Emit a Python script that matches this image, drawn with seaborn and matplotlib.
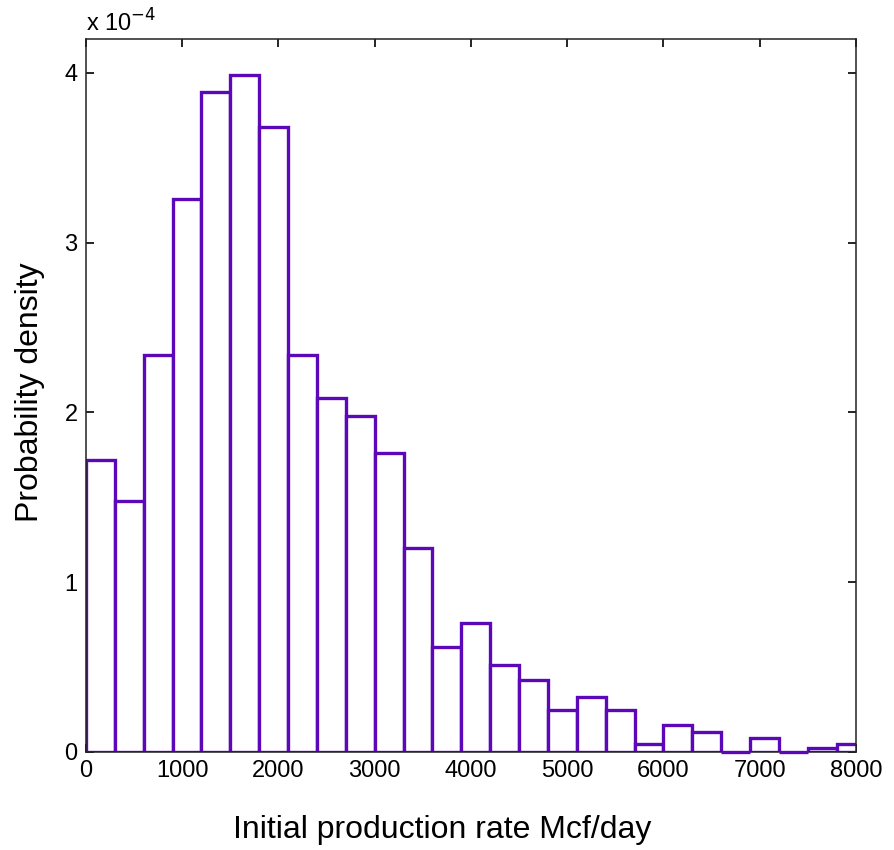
import numpy as np
import pandas as pd
import matplotlib
matplotlib.use("Agg")
import matplotlib.pyplot as plt
import seaborn as sns

# Histogram of initial production rates (bins of 300 Mcf/day)
bin_edges = list(range(0, 8101, 300))
# Probability density per bin, in units of 1e-4
density_e4 = [1.72, 1.48, 2.34, 3.255, 3.89, 3.99, 3.68, 2.34, 2.086, 1.98,
              1.76, 1.20, 0.62, 0.76, 0.51, 0.425, 0.246, 0.324, 0.246, 0.05,
              0.16, 0.12, 0.0, 0.08, 0.0, 0.025, 0.05]
x_ticks = [0, 1000, 2000, 3000, 4000, 5000, 6000, 7000, 8000]
y_ticks = [0, 1, 2, 3, 4]

centers = [(a + b) / 2 for a, b in zip(bin_edges[:-1], bin_edges[1:])]
df = pd.DataFrame({"rate": centers, "density": density_e4})

sns.set_style("white")
plt.rcParams["font.family"] = ["Liberation Sans", "DejaVu Sans"]
plt.rcParams["text.color"] = "black"
plt.rcParams["xtick.color"] = "black"
plt.rcParams["ytick.color"] = "black"

fig = plt.figure(figsize=(8.95, 8.5), dpi=100)
ax = fig.add_axes([86 / 895, 1 - 752 / 850, 770 / 895, 713 / 850])

sns.histplot(data=df, x="rate", weights="density", bins=bin_edges,
             stat="count", fill=True, color="white", edgecolor="#5a08b8",
             linewidth=2.4, alpha=1.0, ax=ax)

# Empty bins are drawn as a flat line along the baseline, above the axis
for p in ax.patches:
    if p.get_height() == 0:
        p.set_clip_on(False)
        p.set_zorder(4)

ax.set_xlim(0, 8000)
ax.set_ylim(0, 4.2)
ax.set_xticks(x_ticks)
ax.set_yticks(y_ticks)
ax.set_xticklabels([str(t) for t in x_ticks], fontsize=17)
ax.set_yticklabels([str(t) for t in y_ticks], fontsize=17)
ax.tick_params(direction="in", length=6, width=1.2, top=True, right=True,
               bottom=True, left=True, pad=6, colors="black")
for s in ax.spines.values():
    s.set_visible(True)
    s.set_color("#222222")
    s.set_linewidth(1.1)
ax.set_xlabel("")
ax.set_ylabel("")

ax.text(0.0, 1.004, r"x 10$^{-4}$", transform=ax.transAxes, fontsize=17,
        ha="left", va="bottom")

fig.text(442 / 895, 1 - 830 / 850, "Initial production rate Mcf/day",
         fontsize=23, ha="center", va="center")
fig.text(30 / 895, 1 - 392 / 850, "Probability density", fontsize=23,
         ha="center", va="center", rotation=90)

fig.savefig("out.png", dpi=100, facecolor="white")
